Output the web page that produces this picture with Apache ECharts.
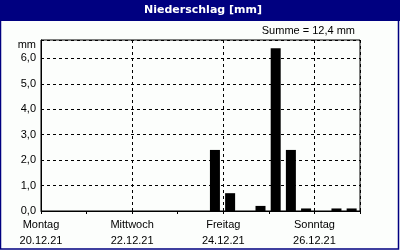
<!DOCTYPE html>
<html><head><meta charset="utf-8">
<script src="https://cdn.jsdelivr.net/npm/echarts@6/dist/echarts.min.js"></script>
<style>html,body{margin:0;padding:0;background:#fff}#c{width:400px;height:250px}</style>
</head><body><div id="c"></div>
<script>
// 8-hour slots, Mon 20.12.21 00:00 .. Mon 27.12.21 00:00 (21 slots)
const slotValues = [0,0,0, 0,0,0, 0,0,0, 0,0,2.4, 0.7,0,0.2, 6.4,2.4,0.1, 0,0.1,0.1];
const dayNames = ['Montag','Dienstag','Mittwoch','Donnerstag','Freitag','Samstag','Sonntag','Montag'];
const dayDates = ['20.12.21','21.12.21','22.12.21','23.12.21','24.12.21','25.12.21','26.12.21','27.12.21'];
const labelDays = [0,2,4,6];
const yTicks = [0,1,2,3,4,5,6];
const titleText = 'Niederschlag [mm]';
const sumText = 'Summe = 12,4 mm';
const unitText = 'mm';

const slotsPerDay = 3;
const barData = slotValues.map((v,i)=>[(i+0.45)/slotsPerDay, v]);
const font = 'Liberation Sans';
const chart = echarts.init(document.getElementById('c'), null, {renderer:'canvas'});
chart.setOption({
  animation:false,
  backgroundColor:'#fcfefc',
  graphic:[
    {type:'rect', shape:{x:0,y:0,width:400,height:21}, style:{fill:'#000080'}, z:-1},
    {type:'rect', shape:{x:0.5,y:0.5,width:398,height:248.5}, style:{fill:'none',stroke:'#000080',lineWidth:1.5}, z:-1},
    {type:'text', x:203, y:10, style:{text:titleText, fill:'#fff', font:'bold 11px "DejaVu Sans"', align:'center', verticalAlign:'middle'}},
    {type:'text', x:355, y:31, style:{text:sumText, fill:'#000', font:'11px '+font, align:'right', verticalAlign:'middle'}},
    {type:'text', x:36, y:45, style:{text:unitText, fill:'#000', font:'11px '+font, align:'right', verticalAlign:'middle'}}
  ],
  grid:{left:41, right:40, top:40, bottom:39, show:true, borderColor:'#000', borderWidth:1, outerBoundsMode:'none', containLabel:false},
  xAxis:{
    type:'value', min:0, max:7, interval:2,
    axisLine:{show:true, lineStyle:{color:'#000'}},
    axisTick:{show:true, length:3, lineStyle:{color:'#000'}},
    minorTick:{show:true, splitNumber:2, length:3, lineStyle:{color:'#000'}},
    splitLine:{show:true, lineStyle:{color:'#000', type:[3,3], width:1}},
    axisLabel:{color:'#000', fontFamily:font, fontSize:11, lineHeight:16, margin:6, showMaxLabel:false,
      formatter:v=> labelDays.includes(v) ? dayNames[v]+'\n'+dayDates[v] : ''}
  },
  yAxis:{
    type:'value', min:0, max:6.72, interval:1,
    axisLine:{show:true, lineStyle:{color:'#000'}},
    axisTick:{show:false},
    splitLine:{show:true, lineStyle:{color:'#000', type:[3,3], width:1}},
    axisLabel:{color:'#000', fontFamily:font, fontSize:11, margin:5, showMaxLabel:false,
      formatter:v=> yTicks.includes(v) ? v.toFixed(1).replace('.',',') : ''}
  },
  series:[{type:'bar', data:barData, barWidth:10, itemStyle:{color:'#000'}}]
});
</script></body></html>
